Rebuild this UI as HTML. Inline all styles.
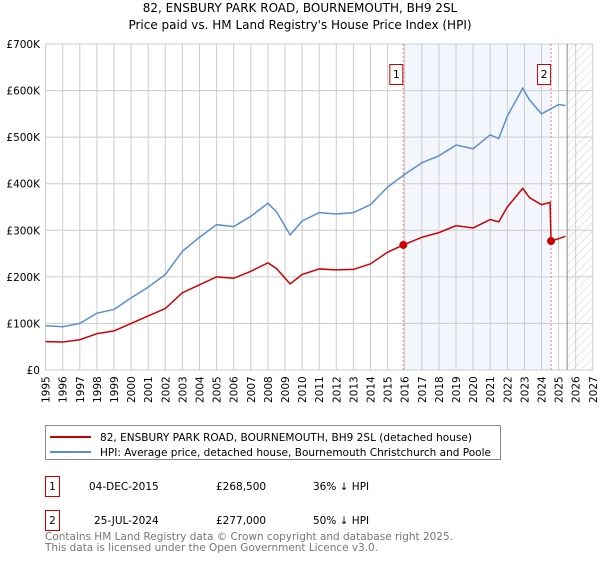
<!DOCTYPE html>
<html><head><meta charset="utf-8"><style>
body{margin:0;background:#fff;font-family:"Liberation Sans","DejaVu Sans",sans-serif;}
</style></head><body>
<svg width="600" height="560" xmlns="http://www.w3.org/2000/svg" id="svg" font-family="DejaVu Sans, Liberation Sans, sans-serif">
<defs><pattern id="hatch" width="6" height="6" patternUnits="userSpaceOnUse" patternTransform="rotate(45)"><line x1="0" y1="0" x2="0" y2="6" stroke="#ccc" stroke-width="1"/></pattern></defs>
<text x="300" y="12" text-anchor="middle" font-size="12" fill="#000">82, ENSBURY PARK ROAD, BOURNEMOUTH, BH9 2SL</text>
<text x="300" y="29" text-anchor="middle" font-size="12" fill="#000">Price paid vs. HM Land Registry's House Price Index (HPI)</text>
<g id="plot"></g>
<g>
<rect x="45.5" y="425.5" width="455" height="34" fill="#fff" stroke="#888"/>
<line x1="50" y1="437" x2="91" y2="437" stroke="#cc0000" stroke-width="2"/>
<text x="100" y="441" font-size="10.5" textLength="372">82, ENSBURY PARK ROAD, BOURNEMOUTH, BH9 2SL (detached house)</text>
<line x1="50" y1="452" x2="91" y2="452" stroke="#5b8fd4" stroke-width="2"/>
<text x="100" y="456" font-size="10.5" textLength="391">HPI: Average price, detached house, Bournemouth Christchurch and Poole</text>
</g>
<g font-size="10.5">
<rect x="45.5" y="476.5" width="14" height="20" fill="#fff" stroke="#cc0000"/>
<text x="52.5" y="490" text-anchor="middle">1</text>
<text x="89" y="490">04-DEC-2015</text><text x="216" y="490">£268,500</text><text x="313" y="490">36% ↓ HPI</text>
<rect x="45.5" y="510.5" width="14" height="20" fill="#fff" stroke="#cc0000"/>
<text x="52.5" y="524" text-anchor="middle">2</text>
<text x="94" y="524">25-JUL-2024</text><text x="216" y="524">£277,000</text><text x="313" y="524">50% ↓ HPI</text>
</g>
<text x="45" y="540" font-size="10.5" textLength="408" fill="#777">Contains HM Land Registry data © Crown copyright and database right 2025.</text>
<text x="45" y="551" font-size="10.5" textLength="333" fill="#777">This data is licensed under the Open Government Licence v3.0.</text>
</svg>
<script>
const years=[1995,1996,1997,1998,1999,2000,2001,2002,2003,2004,2005,2006,2007,2008,2008.5,2009.3,2010,2011,2012,2013,2014,2015,2016,2017,2018,2019,2020,2021,2021.5,2022,2022.9,2023.3,2024,2024.5,2025,2025.4];
const hpiValues=[95,93,100,122,130,155,178,205,255,285,312,308,330,358,340,290,320,338,335,338,355,393,420,445,460,483,475,505,497,545,605,580,550,560,570,568];
const redYears=[1995,1996,1997,1998,1999,2000,2001,2002,2003,2004,2005,2006,2007,2008,2008.5,2009.3,2010,2011,2012,2013,2014,2015,2015.92,2017,2018,2019,2020,2021,2021.5,2022,2022.9,2023.3,2024,2024.5,2024.56,2025,2025.4];
const redValues=[61,60,65,78,84,100,116,132,166,183,200,197,212,230,218,185,205,217,215,216,228,253,268.5,285,295,310,305,323,318,350,390,370,355,360,277,282,287];
const saleYears=[2015.92,2024.56];
const saleValues=[268.5,277];
const yTicks=[0,100,200,300,400,500,600,700];
const yTickLabels=["£0","£100K","£200K","£300K","£400K","£500K","£600K","£700K"];
const xTicks=[1995,1996,1997,1998,1999,2000,2001,2002,2003,2004,2005,2006,2007,2008,2009,2010,2011,2012,2013,2014,2015,2016,2017,2018,2019,2020,2021,2022,2023,2024,2025,2026,2027];
const X0=45.6,XS=17.1,Y0=370,YS=0.4657;
const xs=y=>X0+(y-1995)*XS, ys=v=>Y0-v*YS;
const NS="http://www.w3.org/2000/svg", g=document.getElementById('plot');
function mk(t,a){const e=document.createElementNS(NS,t);for(const k in a)e.setAttribute(k,a[k]);g.appendChild(e);return e;}
let e=mk('rect',{x:xs(saleYears[0]),y:ys(700),width:xs(saleYears[1])-xs(saleYears[0]),height:ys(0)-ys(700),fill:'#eef3fc',opacity:0.7});


e=mk('rect',{x:xs(2025.5),y:ys(700),width:xs(2027)-xs(2025.5),height:ys(0)-ys(700),fill:'url(#hatch)'});


xTicks.forEach(t=>{const l=mk('line',{x1:xs(t),x2:xs(t),y1:ys(700),y2:ys(0),stroke:'#ccc'});


const tx=mk('text',{x:0,y:0,'font-size':10.5,transform:`translate(${xs(t)+4},${ys(0)+33}) rotate(-90)`});tx.textContent=t;

});
yTicks.forEach((t,i)=>{const l=mk('line',{x1:xs(1995),x2:xs(2027),y1:ys(t),y2:ys(t),stroke:'#ccc'});


const tx=mk('text',{x:40,y:ys(t)+4,'font-size':10.5,'text-anchor':'end'});tx.textContent=yTickLabels[i];

});
e=mk('line',{x1:xs(2025.5),x2:xs(2025.5),y1:ys(700),y2:ys(0),stroke:'#888'});


saleYears.forEach((s,i)=>{const l=mk('line',{x1:xs(s),x2:xs(s),y1:ys(700),y2:ys(0),stroke:'#f08080','stroke-dasharray':'2,2'});


const r=mk('rect',{x:xs(s)-13.5,y:64.5,width:13,height:20,fill:'#fff',stroke:'#cc0000'});


const t=mk('text',{x:xs(s)-7,y:78,'font-size':11,'text-anchor':'middle'});t.textContent=i+1;

});
e=mk('polyline',{points:years.map((y,i)=>xs(y)+','+ys(hpiValues[i])).join(' '),fill:'none',stroke:'#5b8fd4','stroke-width':1.5});


e=mk('polyline',{points:redYears.map((y,i)=>xs(y)+','+ys(redValues[i])).join(' '),fill:'none',stroke:'#cc0000','stroke-width':1.5});


saleYears.forEach((s,i)=>{const c=mk('circle',{cx:xs(s),cy:ys(saleValues[i]),r:4,fill:'#cc0000'});

});
</script>
</body></html>
